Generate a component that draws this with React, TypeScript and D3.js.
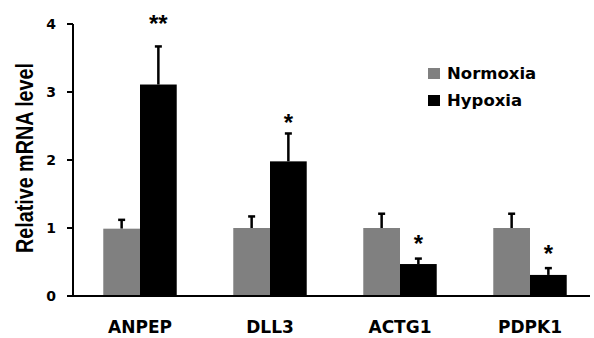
import { useEffect, useRef } from 'react';
import * as d3 from 'd3';

// gene names on the x axis
const genes = ['ANPEP', 'DLL3', 'ACTG1', 'PDPK1'];
const seriesNames = ['Normoxia', 'Hypoxia'];
const seriesColors = ['#808080', '#000000'];

// relative mRNA level, mean and SD (upper error only)
const normoxia = [0.99, 1.0, 1.0, 1.0];
const normoxiaErr = [0.13, 0.17, 0.21, 0.21];
const hypoxia = [3.11, 1.98, 0.47, 0.31];
const hypoxiaErr = [0.56, 0.41, 0.08, 0.1];

// significance marks above the hypoxia bars, and where they sit (data units)
const stars = ['**', '*', '*', '*'];
const starLevel = [4.07, 2.62, 0.84, 0.69];

const yTicks = [0, 1, 2, 3, 4];

export default function App() {
  const svgRef = useRef<SVGSVGElement | null>(null);

  useEffect(() => {
    if (!svgRef.current) return;
    const svg = d3.select(svgRef.current);
    svg.selectAll('*').remove();

    const width = 594;
    const height = 338;
    const font = "'Liberation Sans', Arial, sans-serif";
    const wide = "'DejaVu Sans', Verdana, sans-serif";

    const y = d3.scaleLinear().domain([0, 4]).range([296, 24]);
    const x0 = d3.scaleBand().domain(genes).range([75, 595]).paddingInner(0.435).paddingOuter(0.2175);
    const x1 = d3.scaleBand().domain(seriesNames).range([0, x0.bandwidth()]);

    svg.attr('width', width).attr('height', height);

    const data = genes.map((g, i) => ({
      gene: g,
      bars: [
        { s: seriesNames[0], v: normoxia[i], e: normoxiaErr[i] },
        { s: seriesNames[1], v: hypoxia[i], e: hypoxiaErr[i] },
      ],
    }));

    const groups = svg.append('g')
      .selectAll('g')
      .data(data)
      .enter()
      .append('g')
      .attr('transform', d => `translate(${x0(d.gene)},0)`);

    // error bars first (behind bars)
    groups.selectAll('.err')
      .data(d => d.bars)
      .enter()
      .append('line')
      .attr('x1', d => (x1(d.s) as number) + x1.bandwidth() / 2)
      .attr('x2', d => (x1(d.s) as number) + x1.bandwidth() / 2)
      .attr('y1', d => y(d.v))
      .attr('y2', d => y(d.v + d.e))
      .attr('stroke', '#000')
      .attr('stroke-width', 2.5);

    groups.selectAll('.cap')
      .data(d => d.bars)
      .enter()
      .append('line')
      .attr('x1', d => (x1(d.s) as number) + x1.bandwidth() / 2 - 3.5)
      .attr('x2', d => (x1(d.s) as number) + x1.bandwidth() / 2 + 3.5)
      .attr('y1', d => y(d.v + d.e))
      .attr('y2', d => y(d.v + d.e))
      .attr('stroke', '#000')
      .attr('stroke-width', 2.5);

    groups.selectAll('rect')
      .data(d => d.bars)
      .enter()
      .append('rect')
      .attr('x', d => x1(d.s) as number)
      .attr('width', x1.bandwidth())
      .attr('y', d => y(d.v))
      .attr('height', d => y(0) - y(d.v))
      .attr('fill', (d, i) => seriesColors[i]);

    // stars
    svg.append('g')
      .selectAll('text')
      .data(genes)
      .enter()
      .append('text')
      .attr('x', d => (x0(d) as number) + (x1('Hypoxia') as number) + x1.bandwidth() / 2)
      .attr('y', (d, i) => y(starLevel[i]) + 13)
      .attr('text-anchor', 'middle')
      .attr('font-family', font)
      .attr('font-weight', 'bold')
      .attr('font-size', 24)
      .text((d, i) => stars[i]);

    // axes
    svg.append('line')
      .attr('x1', 73).attr('x2', 590)
      .attr('y1', y(0)).attr('y2', y(0))
      .attr('stroke', '#000').attr('stroke-width', 2);
    svg.append('line')
      .attr('x1', 73).attr('x2', 73)
      .attr('y1', y(4)).attr('y2', y(0))
      .attr('stroke', '#000').attr('stroke-width', 2);

    const ticks = svg.append('g');
    ticks.selectAll('line')
      .data(yTicks)
      .enter()
      .append('line')
      .attr('x1', 67).attr('x2', 73)
      .attr('y1', d => y(d)).attr('y2', d => y(d))
      .attr('stroke', '#000').attr('stroke-width', 2);
    ticks.selectAll('text')
      .data(yTicks)
      .enter()
      .append('text')
      .attr('x', 56)
      .attr('y', d => y(d) + 5)
      .attr('text-anchor', 'end')
      .attr('font-family', wide)
      .attr('font-weight', 'bold')
      .attr('font-size', 14)
      .text(d => d);

    svg.append('g')
      .selectAll('text')
      .data(genes)
      .enter()
      .append('text')
      .attr('x', d => (x0(d) as number) + x0.bandwidth() / 2)
      .attr('y', 333)
      .attr('text-anchor', 'middle')
      .attr('font-family', wide)
      .attr('font-weight', 'bold')
      .attr('font-size', 17)
      .text(d => d);

    svg.append('text')
      .attr('transform', 'translate(33,158) rotate(-90)')
      .attr('text-anchor', 'middle')
      .attr('font-family', font)
      .attr('font-weight', 'bold')
      .attr('font-size', 23)
      .attr('textLength', 190)
      .attr('lengthAdjust', 'spacingAndGlyphs')
      .text('Relative mRNA level');

    // legend
    const legend = svg.append('g')
      .selectAll('g')
      .data(seriesNames)
      .enter()
      .append('g')
      .attr('transform', (d, i) => `translate(428,${68 + i * 27})`);
    legend.append('rect')
      .attr('width', 12).attr('height', 11)
      .attr('fill', (d, i) => seriesColors[i]);
    legend.append('text')
      .attr('x', 19)
      .attr('y', 11)
      .attr('font-family', wide)
      .attr('font-weight', 'bold')
      .attr('font-size', 16.5)
      .text(d => d);
  }, []);

  return (
    <svg ref={svgRef} style={{ position: 'absolute', left: 0, top: 0, background: '#fff' }} />
  );
}
